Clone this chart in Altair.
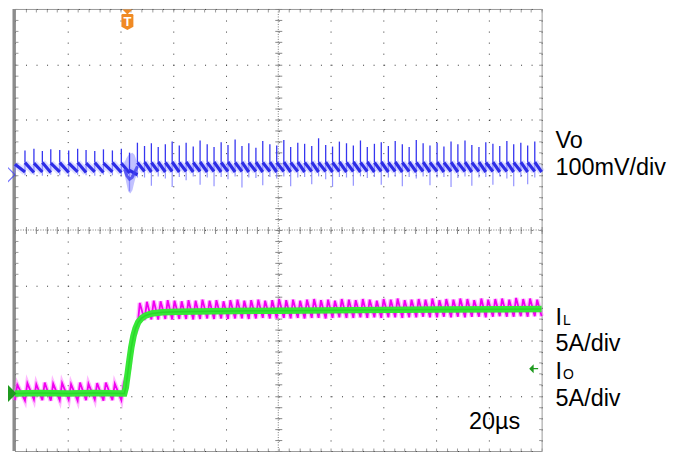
import altair as alt
import pandas as pd

# ---------------- data ----------------
# horizontal: time in µs (20 µs/div, 10 div); vertical: screen divisions (-4 .. 4)
grid_x = [0, 20, 40, 60, 80, 100, 120, 140, 160, 180, 200]
grid_y = [-4, -3, -2, -1, 0, 1, 2, 3, 4]
minor_x = list(range(0, 201, 4))
minor_y = [round(-4 + 0.2 * k, 1) for k in range(41)]

# switching-cycle start times (µs)
cyc_t = [0.0, 3.8, 7.2, 10.4, 13.6, 17.0, 20.4, 23.8, 27.0, 30.3, 33.6, 37.0, 40.4,
         43.5, 46.5, 49.2, 51.8, 54.4, 57.1, 59.7, 62.4, 65.0, 67.7, 70.3, 73.0,
         75.6, 78.3, 80.9, 83.6, 86.2, 88.8, 91.5, 94.1, 96.8, 99.4, 102.1, 104.7,
         107.4, 110.0, 112.7, 115.3, 118.0, 120.6, 123.2, 125.9, 128.5, 131.2,
         133.8, 136.5, 139.1, 141.8, 144.4, 147.1, 149.7, 152.4, 155.0, 157.6,
         160.3, 162.9, 165.6, 168.2, 170.9, 173.5, 176.2, 178.8, 181.5, 184.1,
         186.8, 189.4, 192.1, 194.7, 197.4]

# Vo trace (divisions): sawtooth start / end level, spike top, spike bottom
vo_a = [1.19, 1.22, 1.21, 1.22, 1.21, 1.22, 1.21, 1.22, 1.21, 1.22, 1.21, 1.22, 1.21,
        1.08, 1.22, 1.23, 1.22, 1.23, 1.22, 1.23, 1.22, 1.23, 1.22, 1.23, 1.22,
        1.23, 1.22, 1.23, 1.22, 1.23, 1.22, 1.23, 1.22, 1.23, 1.22, 1.23, 1.22,
        1.23, 1.22, 1.23, 1.22, 1.23, 1.22, 1.23, 1.22, 1.23, 1.22, 1.23, 1.22,
        1.23, 1.22, 1.23, 1.22, 1.23, 1.22, 1.23, 1.22, 1.23, 1.22, 1.23, 1.22,
        1.23, 1.22, 1.23, 1.22, 1.23, 1.22, 1.23, 1.22, 1.23, 1.22, 1.23]
vo_b = [1.05, 1.04, 1.05, 1.04, 1.05, 1.04, 1.05, 1.04, 1.05, 1.04, 1.05, 1.04, 1.03,
        1.00, 1.06, 1.05, 1.06, 1.05, 1.06, 1.05, 1.06, 1.05, 1.06, 1.05, 1.06,
        1.05, 1.06, 1.05, 1.06, 1.05, 1.06, 1.05, 1.06, 1.05, 1.06, 1.05, 1.06,
        1.05, 1.06, 1.05, 1.06, 1.05, 1.06, 1.05, 1.06, 1.05, 1.06, 1.05, 1.06,
        1.05, 1.06, 1.05, 1.06, 1.05, 1.06, 1.05, 1.06, 1.05, 1.06, 1.05, 1.06,
        1.05, 1.06, 1.05, 1.06, 1.05, 1.06, 1.05, 1.06, 1.05, 1.06, 1.05]
vo_up = [1.19, 1.44, 1.47, 1.43, 1.46, 1.45, 1.44, 1.47, 1.45, 1.43, 1.46, 1.44, 1.47,
         1.40, 1.58,
         1.52, 1.57, 1.50, 1.55, 1.60, 1.53, 1.58, 1.51, 1.62, 1.55,
         1.50, 1.59, 1.54, 1.64, 1.52, 1.57, 1.49, 1.61, 1.55, 1.53,
         1.63, 1.50, 1.58, 1.56, 1.52, 1.66, 1.54, 1.51, 1.60, 1.57,
         1.53, 1.62, 1.50, 1.56, 1.59, 1.52, 1.61, 1.55, 1.50, 1.63,
         1.57, 1.53, 1.58, 1.51, 1.60, 1.55, 1.62, 1.54, 1.50, 1.59,
         1.56, 1.52, 1.61, 1.55, 1.58, 1.53, 1.60]
vo_dn = [1.03, 0.99, 1.00, 0.98, 1.00, 0.99, 0.97, 1.00, 0.99, 0.98, 1.00, 0.99, 0.98,
         0.70, 0.95,
         0.95, 0.80, 0.97, 0.93, 0.78, 0.96, 0.90, 0.97, 0.82, 0.95,
         0.79, 0.96, 0.92, 0.97, 0.77, 0.95, 0.94, 0.81, 0.96, 0.93,
         0.97, 0.79, 0.95, 0.96, 0.83, 0.97, 0.92, 0.78, 0.96, 0.95,
         0.80, 0.97, 0.94, 0.96, 0.82, 0.95, 0.97, 0.79, 0.96, 0.93,
         0.97, 0.81, 0.95, 0.96, 0.78, 0.94, 0.97, 0.80, 0.95, 0.96,
         0.82, 0.97, 0.93, 0.79, 0.96, 0.83, 0.95]
# Vo disturbance at the load step
vo_blob_t = [41.6, 42.3, 43.0, 43.8, 44.6, 45.4, 46.2]
vo_blob_lo = [1.02, 0.85, 0.70, 0.66, 0.72, 0.88, 1.02]
vo_blob_hi = [1.22, 1.30, 1.35, 1.38, 1.40, 1.36, 1.25]
vo_core_t = [41.6, 42.5, 43.5, 44.5, 45.5, 46.5]
vo_core_v = [1.10, 0.98, 0.92, 0.95, 1.05, 1.15]

# IL trace (divisions): valley and peak of each cycle
IL_RISE = 0.9
il_lo = [-3.08, -3.09, -3.07, -3.08, -3.09, -3.08, -3.07, -3.09, -3.08, -3.07, -3.09, -3.08, -3.08,
         -2.50, -1.78,
         -1.63, -1.62, -1.62, -1.61, -1.62, -1.61, -1.61, -1.62, -1.61, -1.60,
         -1.61, -1.60, -1.61, -1.60, -1.60, -1.61, -1.60, -1.59, -1.60, -1.60,
         -1.59, -1.60, -1.59, -1.60, -1.59, -1.59, -1.60, -1.59, -1.58, -1.59,
         -1.59, -1.58, -1.59, -1.58, -1.59, -1.58, -1.58, -1.59, -1.58, -1.58,
         -1.57, -1.58, -1.58, -1.57, -1.58, -1.57, -1.58, -1.57, -1.57, -1.58,
         -1.57, -1.56, -1.57, -1.57, -1.56, -1.57, -1.56]
il_hi = [-2.80, -2.77, -2.79, -2.76, -2.78, -2.77, -2.79, -2.76, -2.78, -2.77, -2.76, -2.78, -2.77,
         -2.00, -1.32,
         -1.30, -1.28, -1.29, -1.27, -1.28, -1.29, -1.27, -1.28, -1.26, -1.28,
         -1.27, -1.29, -1.27, -1.26, -1.28, -1.27, -1.26, -1.28, -1.27, -1.25,
         -1.27, -1.26, -1.28, -1.26, -1.25, -1.27, -1.26, -1.28, -1.25, -1.26,
         -1.27, -1.25, -1.26, -1.28, -1.25, -1.26, -1.24, -1.27, -1.26, -1.25,
         -1.26, -1.24, -1.27, -1.25, -1.26, -1.24, -1.25, -1.27, -1.24, -1.26,
         -1.25, -1.24, -1.26, -1.23, -1.25, -1.24, -1.26]

# IO trace (divisions)
io_t = [0, 10, 20, 30, 41.5, 42.1, 42.8, 43.5, 44.2, 45.0, 45.8, 46.8, 48.0, 49.5,
        52.0, 56.0, 62.0, 75.0, 100.0, 130.0, 160.0, 200.0]
io_v = [-2.96, -2.95, -2.96, -2.95, -2.96, -2.85, -2.60, -2.35, -2.12, -1.92, -1.78,
        -1.67, -1.60, -1.55, -1.51, -1.49, -1.48, -1.47, -1.46, -1.45, -1.44, -1.43]

trigger_t = 42.7
vo_marker = 1.0
io_marker_left = -2.96
io_marker_right = -2.51

# ---------------- tables ----------------
saw = pd.DataFrame({"t0": cyc_t, "t1": cyc_t[1:] + [200.0], "y0": vo_a, "y1": vo_b})
spk = pd.DataFrame({"t": cyc_t, "up": vo_up, "dn": vo_dn, "a": vo_a})
blob = pd.DataFrame({"t": vo_blob_t, "lo": vo_blob_lo, "hi": vo_blob_hi})
core = pd.DataFrame({"t": vo_core_t, "v": vo_core_v})
il_rows = []
for i, t in enumerate(cyc_t):
    il_rows.append((t, il_lo[i]))
    il_rows.append((t + IL_RISE, il_hi[i]))
il_rows.append((200.0, il_lo[-1]))
il = pd.DataFrame(il_rows, columns=["t", "v"])
il["k"] = range(len(il))
io = pd.DataFrame({"t": io_t, "v": io_v})
one = pd.DataFrame({"a": [0]})

W, H = 529, 444
xs = alt.Scale(domain=[0, 200], nice=False, zero=False)
ys = alt.Scale(domain=[-4, 4], nice=False, zero=False)


def X(f, **kw):
    return alt.X(f, type="quantitative", scale=xs, axis=None, **kw)


def Y(f, **kw):
    return alt.Y(f, type="quantitative", scale=ys, axis=None, **kw)


def axis_layer(xaxis=None, yaxis=None):
    return alt.Chart(one).mark_point(opacity=0).encode(
        x=alt.XDatum(0, type="quantitative", scale=xs, axis=xaxis),
        y=alt.YDatum(0, type="quantitative", scale=ys, axis=yaxis),
    )


common = dict(labels=False, domain=False, title=None)
tick_grey = "#9a9a9a"
layers = [
    axis_layer(xaxis=alt.Axis(orient="bottom", values=grid_x, grid=True, gridDash=[1, 10.1],
                              gridColor="#333", gridWidth=1, ticks=False, **common)),
    axis_layer(yaxis=alt.Axis(orient="left", values=grid_y, grid=True, gridDash=[1, 9.58],
                              gridColor="#333", gridWidth=1, ticks=False, **common)),
    axis_layer(xaxis=alt.Axis(orient="top", offset=-3, values=minor_x, tickSize=3,
                              tickColor=tick_grey, grid=False, **common)),
    axis_layer(xaxis=alt.Axis(orient="bottom", offset=-3, values=minor_x, tickSize=3,
                              tickColor=tick_grey, grid=False, **common)),
    axis_layer(yaxis=alt.Axis(orient="left", offset=-3, values=minor_y, tickSize=3,
                              tickColor=tick_grey, grid=False, **common)),
    axis_layer(yaxis=alt.Axis(orient="right", offset=-3, values=minor_y, tickSize=3,
                              tickColor=tick_grey, grid=False, **common)),
    axis_layer(xaxis=alt.Axis(orient="top", offset=-(H / 2 + 3.5), values=minor_x, tickSize=7,
                              tickColor="#888", grid=False, **common)),
    axis_layer(yaxis=alt.Axis(orient="left", offset=-(W / 2 + 3.5), values=minor_y, tickSize=7,
                              tickColor="#888", grid=False, **common)),
]

# centre cross lines (dense dots) and thick left frame edge
layers.append(alt.Chart(one).mark_rule(color="#777", strokeDash=[1, 1.5], strokeWidth=1).encode(
    x=alt.XDatum(100, type="quantitative", scale=xs, axis=None)))
layers.append(alt.Chart(one).mark_rule(color="#777", strokeDash=[1, 1.5], strokeWidth=1).encode(
    y=alt.YDatum(0, type="quantitative", scale=ys, axis=None)))
layers.append(alt.Chart(one).mark_rule(color="#8c8c8c", strokeWidth=3).encode(x=alt.value(-1)))

# IL (magenta)
layers.append(alt.Chart(il).mark_line(color="#ff80ff", strokeWidth=4.5, opacity=0.55).encode(
    x=X("t"), y=Y("v"), order="k:Q"))
layers.append(alt.Chart(il).mark_line(color="#f000f0", strokeWidth=1.8).encode(
    x=X("t"), y=Y("v"), order="k:Q"))
# IO (green)
layers.append(alt.Chart(io).mark_line(color="#37e837", strokeWidth=6.5).encode(x=X("t"), y=Y("v")))
layers.append(alt.Chart(io).mark_line(color="#22cc22", strokeWidth=1.5, opacity=0.6).encode(
    x=X("t"), y=Y("v")))

# Vo (blue)
layers.append(alt.Chart(blob).mark_area(color="#9a9aff", opacity=0.6).encode(
    x=X("t"), y=Y("lo"), y2="hi"))
layers.append(alt.Chart(saw).mark_rule(color="#a0a0ff", strokeWidth=7, opacity=0.35).encode(
    x=X("t0"), x2="t1", y=Y("y0"), y2="y1"))
layers.append(alt.Chart(spk).mark_rule(color="#7878ff", strokeWidth=1.2, opacity=0.8).encode(
    x=X("t"), y=Y("dn"), y2="a"))
layers.append(alt.Chart(spk).mark_rule(color="#3535f0", strokeWidth=1.3).encode(
    x=X("t"), y=Y("a"), y2="up"))
layers.append(alt.Chart(saw).mark_rule(color="#2c2ce6", strokeWidth=3.2).encode(
    x=X("t0"), x2="t1", y=Y("y0"), y2="y1"))
layers.append(alt.Chart(core).mark_line(color="#4040f0", strokeWidth=3, opacity=0.8).encode(
    x=X("t"), y=Y("v")))

# channel markers
layers.append(alt.Chart(one).mark_point(shape="M-1,-1L0,0L-1,1", filled=False, color="#3a3aff",
                                        strokeWidth=1.2, size=324).encode(
    x=alt.value(0), y=alt.YDatum(vo_marker, type="quantitative", scale=ys, axis=None)))
layers.append(alt.Chart(one).mark_point(shape="M-0.5,-1L0.5,0L-0.5,1Z", filled=True,
                                        color="#1f9a1f", opacity=1, size=324).encode(
    x=alt.value(-3), y=alt.YDatum(io_marker_left, type="quantitative", scale=ys, axis=None)))
layers.append(alt.Chart(one).mark_point(shape="M-1,0L0,-1L0,1Z M0,-0.15L1,-0.15L1,0.15L0,0.15Z",
                                        filled=True, color="#1f9a1f", opacity=1, size=81).encode(
    x=alt.value(521), y=alt.YDatum(io_marker_right, type="quantitative", scale=ys, axis=None)))
# trigger marker
layers.append(alt.Chart(one).mark_point(shape="M-1,-0.5L1,-0.5L0,0.5Z", filled=True,
                                        color="#f08a24", opacity=1, size=100).encode(
    x=alt.XDatum(trigger_t, type="quantitative", scale=xs, axis=None), y=alt.value(3)))
layers.append(alt.Chart(one).mark_point(
    shape="M-0.75,-0.85Q-0.75,-1,-0.6,-1L0.6,-1Q0.75,-1,0.75,-0.85L0.75,0.6L0,1L-0.75,0.6Z",
    filled=True, color="#f08a24", opacity=1, size=256).encode(
    x=alt.XDatum(trigger_t, type="quantitative", scale=xs, axis=None), y=alt.value(13)))
layers.append(alt.Chart(one).mark_text(text="T", color="white", fontSize=13, fontWeight="bold",
                                       font="Liberation Sans", baseline="middle").encode(
    x=alt.XDatum(trigger_t, type="quantitative", scale=xs, axis=None), y=alt.value(13)))

# labels
FONT = "Liberation Sans"
label_rows = [
    ("Vo", 543, 140, 23.5), ("100mV/div", 543, 167, 23.5),
    ("I", 543, 317, 23.5), ("L", 550.5, 317, 14), ("5A/div", 543, 344, 23.5),
    ("I", 543, 372, 23.5), ("O", 550.5, 372, 14), ("5A/div", 543, 399, 23.5),
    ("20µs", 456, 422, 23.5),
]
for txt, px, py, fs in label_rows:
    layers.append(alt.Chart(one).mark_text(text=txt, align="left", baseline="alphabetic",
                                           font=FONT, fontSize=fs, color="black").encode(
        x=alt.value(px), y=alt.value(py)))

chart = alt.layer(*layers).resolve_axis(x="independent", y="independent").properties(
    width=W, height=H, autosize="none",
    padding={"left": 7, "top": 0, "right": 140, "bottom": 0},
).configure_view(stroke="#9a9a9a", strokeWidth=1)

chart.save("out.html", embed_options={"renderer": "svg", "actions": False})
